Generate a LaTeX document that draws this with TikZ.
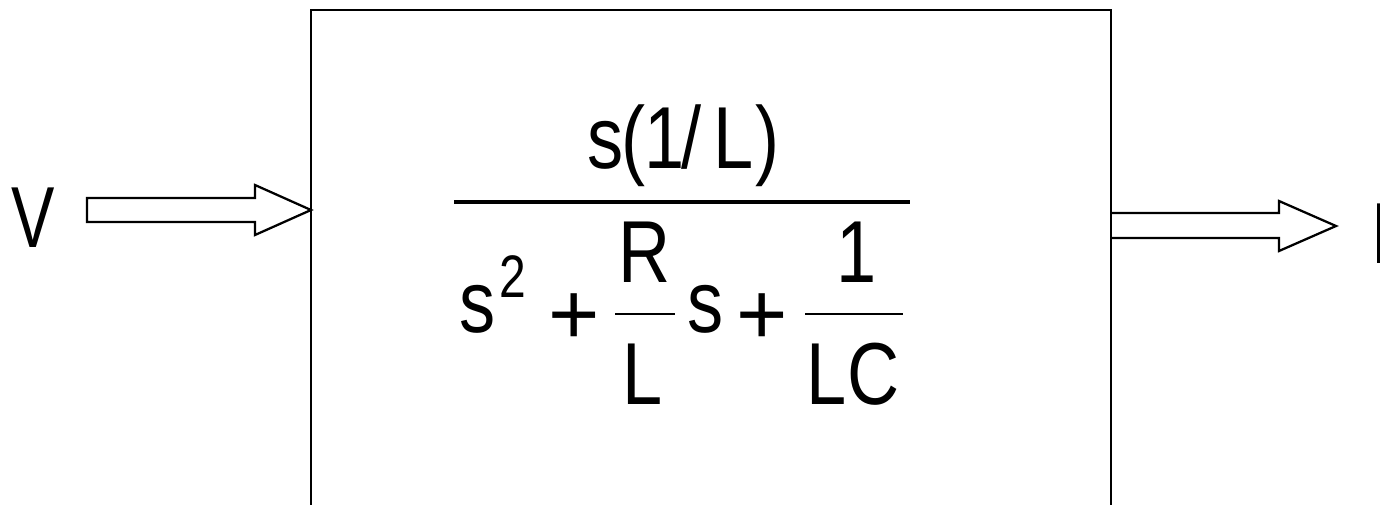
\documentclass[tikz,border=0pt]{standalone}
\usepackage{fontspec}
\setmainfont{Liberation Sans}
\newcommand\fV{\fontsize{65pt}{70pt}\selectfont}
\newcommand\fD{\fontsize{66pt}{70pt}\selectfont}
\newcommand\fS{\fontsize{45pt}{48pt}\selectfont}
\newcommand\nx[1]{\scalebox{0.82}[1]{#1}}
\tikzset{
  frame/.style={draw, line width=1.3pt, inner sep=0pt, minimum width=600pt, minimum height=382.5pt},
  hollow/.style={line width=1.7pt, line join=miter},
  glyph/.style={inner sep=0pt, anchor=base},
  mainbar/.style={line width=2.8pt},
  smallbar/.style={line width=1.2pt},
}
\begin{document}
\begin{tikzpicture}[x=0.75pt,y=-0.75pt]
\useasboundingbox (0,0) rectangle (1380,504);
% block
\node[frame] (blk) at (711,265) {};
% input / output labels
\node[glyph] (vin) at (33,247) {\fV\scalebox{0.75}[1]{V}};
\node[glyph, anchor=base west] (iout) at (1369,263) {\fV I};
% connectors (hollow arrows)
\coordinate (tailL) at (87,210);
\coordinate (tipL) at (311,210);
\coordinate (tailR) at (1111,226);
\coordinate (tipR) at (1336,226);
\draw[hollow] (tailL) ++(0,-12) -- (255,198) -- (255,185) -- (tipL) -- (255,235) -- (255,222) -- (87,222) -- cycle;
\draw[hollow] (tailR) ++(0,-13) -- (1279,213) -- (1279,201) -- (tipR) -- (1279,251) -- (1279,238) -- (1111,238);
% numerator s(1/L)
\node[glyph] (n1) at (606,168) {\fD\nx{s}};
\node[glyph] (n2) at (634,168) {\fD\nx{(}};
\node[glyph] (n3) at (665,168) {\fD\nx{1}};
\node[glyph] (n4) at (692,168) {\fD\nx{/}};
\node[glyph] (n5) at (734,168) {\fD\nx{L}};
\node[glyph] (n6) at (768,168) {\fD\nx{)}};
% main fraction bar
\coordinate (barA) at (454,202);
\coordinate (barB) at (910,202);
\draw[mainbar] (barA) -- (barB);
% denominator
\node[glyph] (d1) at (478,332) {\fD\nx{s}};
\node[glyph] (d2) at (513,297) {\fS\scalebox{0.8}[1]{2}};
\node[glyph] (d3) at (574,344) {\fD +};
\node[glyph] (d4) at (645,282) {\fD\nx{R}};
\coordinate (b1A) at (615,314);
\coordinate (b1B) at (675,314);
\draw[smallbar] (b1A) -- (b1B);
\node[glyph] (d5) at (643,404) {\fD\nx{L}};
\node[glyph] (d6) at (706,332) {\fD\nx{s}};
\node[glyph] (d7) at (762,344) {\fD +};
\node[glyph] (d8) at (857,282) {\fD\nx{1}};
\coordinate (b2A) at (805,314);
\coordinate (b2B) at (903,314);
\draw[smallbar] (b2A) -- (b2B);
\node[glyph] (d9) at (853,404) {\fD\nx{LC}};
\end{tikzpicture}
\end{document}
